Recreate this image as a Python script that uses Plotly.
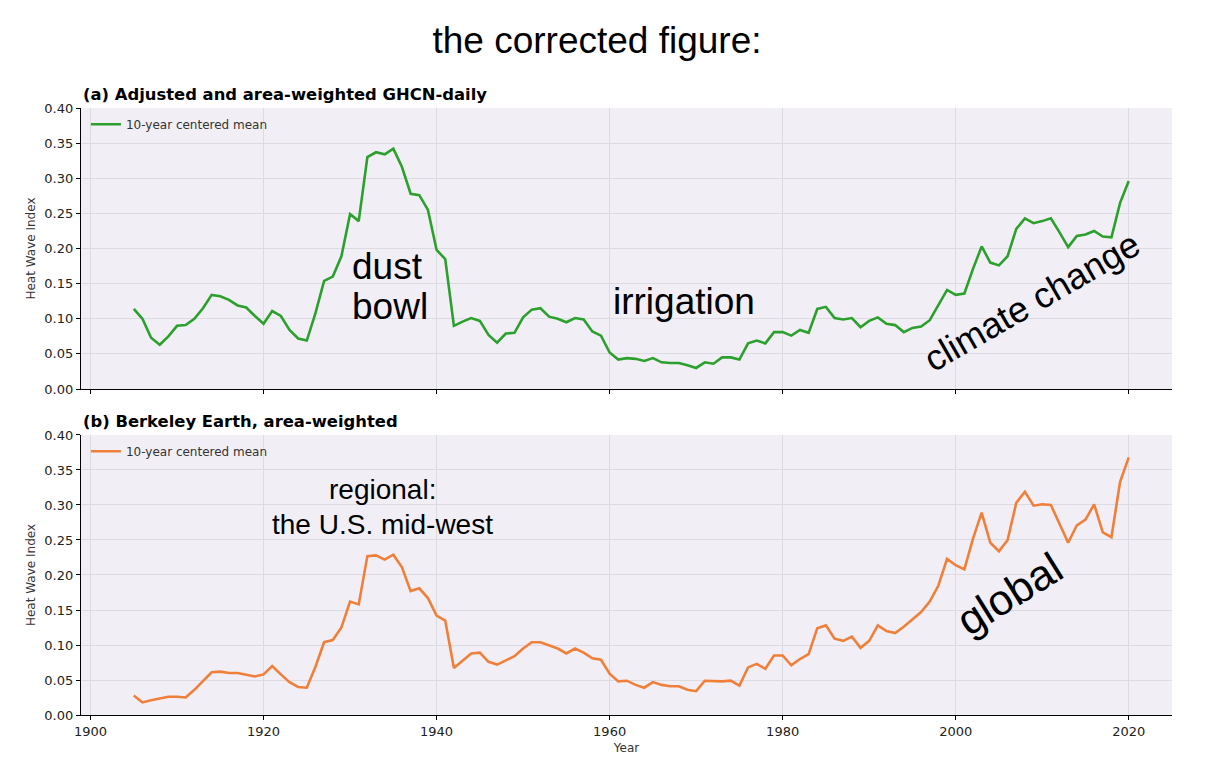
import plotly.graph_objects as go
from plotly.subplots import make_subplots

# heat wave index, 10-year centered mean
years = list(range(1905, 2021))

ghcn = [0.114, 0.100, 0.073, 0.063, 0.075, 0.090, 0.091, 0.100, 0.115, 0.134,
        0.132, 0.127, 0.119, 0.116, 0.104, 0.093, 0.111, 0.104, 0.084, 0.072,
        0.069, 0.108, 0.154, 0.160, 0.189, 0.249, 0.239, 0.330, 0.337, 0.334,
        0.342, 0.316, 0.278, 0.276, 0.255, 0.198, 0.185, 0.090, 0.096, 0.101,
        0.097, 0.077, 0.066, 0.079, 0.080, 0.102, 0.113, 0.115, 0.103, 0.100,
        0.095, 0.101, 0.099, 0.082, 0.076, 0.052, 0.042, 0.044, 0.043, 0.040,
        0.044, 0.038, 0.037, 0.037, 0.034, 0.030, 0.038, 0.036, 0.045, 0.045,
        0.042, 0.065, 0.069, 0.065, 0.081, 0.081, 0.076, 0.084, 0.080, 0.114,
        0.117, 0.101, 0.099, 0.101, 0.088, 0.097, 0.102, 0.093, 0.091, 0.081,
        0.087, 0.089, 0.098, 0.119, 0.141, 0.134, 0.136, 0.171, 0.203, 0.180,
        0.176, 0.189, 0.228, 0.243, 0.236, 0.239, 0.243, 0.223, 0.202, 0.218,
        0.220, 0.225, 0.217, 0.216, 0.265, 0.296]

berkeley = [0.028, 0.018, 0.021, 0.024, 0.026, 0.026, 0.025, 0.036, 0.049, 0.061,
            0.062, 0.060, 0.060, 0.058, 0.055, 0.058, 0.070, 0.058, 0.047, 0.040,
            0.039, 0.069, 0.104, 0.107, 0.125, 0.162, 0.158, 0.227, 0.228, 0.222,
            0.229, 0.211, 0.177, 0.181, 0.167, 0.142, 0.135, 0.067, 0.078, 0.088,
            0.089, 0.076, 0.072, 0.078, 0.084, 0.095, 0.104, 0.104, 0.100, 0.095,
            0.088, 0.095, 0.089, 0.081, 0.079, 0.059, 0.048, 0.049, 0.043, 0.039,
            0.047, 0.043, 0.041, 0.041, 0.036, 0.034, 0.049, 0.048, 0.048, 0.049,
            0.042, 0.068, 0.073, 0.066, 0.085, 0.085, 0.071, 0.080, 0.087, 0.124,
            0.128, 0.109, 0.106, 0.112, 0.096, 0.106, 0.128, 0.120, 0.117, 0.126,
            0.137, 0.147, 0.162, 0.185, 0.223, 0.214, 0.208, 0.252, 0.289, 0.246,
            0.234, 0.250, 0.303, 0.319, 0.299, 0.301, 0.300, 0.272, 0.246, 0.271,
            0.279, 0.301, 0.261, 0.254, 0.333, 0.368]

yticks = [0.0, 0.05, 0.10, 0.15, 0.20, 0.25, 0.30, 0.35, 0.40]
ytick_labels = ["%.2f" % v for v in yticks]
xticks = [1900, 1920, 1940, 1960, 1980, 2000, 2020]

green = "#2ca02c"
orange = "#f07f3a"
bg = "#f1eff5"
grid = "#dddbe2"

fig = make_subplots(rows=2, cols=1, shared_xaxes=False)

fig.add_trace(go.Scatter(x=years, y=ghcn, mode="lines", name="10-year centered mean",
                         line=dict(color=green, width=2.6), legend="legend"), row=1, col=1)
fig.add_trace(go.Scatter(x=years, y=berkeley, mode="lines", name="10-year centered mean",
                         line=dict(color=orange, width=2.6), legend="legend2"), row=2, col=1)

# panel positions (paper coords)
top_dom = [0.537, 1.0]
bot_dom = [0.0, 0.4613]

axis_common = dict(showline=True, linecolor="black", linewidth=1.2, ticks="outside",
                   ticklen=4, tickcolor="black", showgrid=True, gridcolor=grid,
                   gridwidth=1.2, zeroline=False, mirror=False,
                   tickfont=dict(family="DejaVu Sans", size=13, color="#222"))

fig.update_xaxes(range=[1898.9, 2025.0], tickvals=xticks, **axis_common)
fig.update_xaxes(showticklabels=False, row=1, col=1)
fig.update_xaxes(title=dict(text="Year", font=dict(family="DejaVu Sans", size=12, color="#333"),
                            standoff=5), row=2, col=1)
fig.update_yaxes(range=[0, 0.4], tickvals=yticks, ticktext=ytick_labels,
                 title=dict(text="Heat Wave Index", font=dict(family="DejaVu Sans", size=12, color="#333"),
                            standoff=6), **axis_common)
fig.update_layout(yaxis=dict(domain=top_dom), yaxis2=dict(domain=bot_dom))

ann_font = "Liberation Sans, Arial, Helvetica"
big = dict(family=ann_font, size=37, color="black")
annotations = [
    dict(text="<b>(a) Adjusted and area-weighted GHCN-daily</b>", xref="paper", yref="paper",
         x=0.0, y=1.0, xanchor="left", yanchor="bottom", yshift=2, showarrow=False,
         font=dict(family="DejaVu Sans", size=16.4, color="black")),
    dict(text="<b>(b) Berkeley Earth, area-weighted</b>", xref="paper", yref="paper",
         x=0.0, y=bot_dom[1], xanchor="left", yanchor="bottom", yshift=2, showarrow=False,
         font=dict(family="DejaVu Sans", size=16.4, color="black")),
    dict(text="dust", xref="x", yref="y", x=1930.0, y=0.175, xanchor="left",
         yanchor="middle", showarrow=False, font=big),
    dict(text="bowl", xref="x", yref="y", x=1930.0, y=0.117, xanchor="left",
         yanchor="middle", showarrow=False, font=big),
    dict(text="irrigation", xref="x", yref="y", x=1968.6, y=0.124, xanchor="center",
         yanchor="middle", showarrow=False, font=big),
    dict(text="climate change", xref="x", yref="y", x=2008.8, y=0.124, xanchor="center",
         yanchor="middle", textangle=-30, showarrow=False,
         font=dict(family=ann_font, size=36, color="black")),
    dict(text="regional:", xref="x2", yref="y2", x=1933.8, y=0.322,
         xanchor="center", yanchor="middle", showarrow=False,
         font=dict(family=ann_font, size=28, color="black")),
    dict(text="the U.S. mid-west", xref="x2", yref="y2", x=1933.8, y=0.272,
         xanchor="center", yanchor="middle", showarrow=False,
         font=dict(family=ann_font, size=28, color="black")),
    dict(text="global", xref="x2", yref="y2", x=2006.2, y=0.173, xanchor="center",
         yanchor="middle", textangle=-32, showarrow=False,
         font=dict(family=ann_font, size=43, color="black")),
]

legend_common = dict(bgcolor="rgba(0,0,0,0)", borderwidth=0, xanchor="left", yanchor="top",
                     x=0.0045, font=dict(family="DejaVu Sans", size=12, color="#333"),
                     itemwidth=30)

fig.update_layout(
    width=1208, height=777,
    margin=dict(l=73, r=44, t=100, b=70),
    paper_bgcolor="white", plot_bgcolor=bg,
    title=dict(text="the corrected figure:", x=0.4876, xanchor="center", y=0.9588, yanchor="middle",
               font=dict(family=ann_font, size=37, color="black")),
    annotations=annotations,
    legend=dict(y=0.997, **legend_common),
    legend2=dict(y=bot_dom[1] - 0.003, **legend_common),
    showlegend=True,
)

fig.write_html("out.html")
